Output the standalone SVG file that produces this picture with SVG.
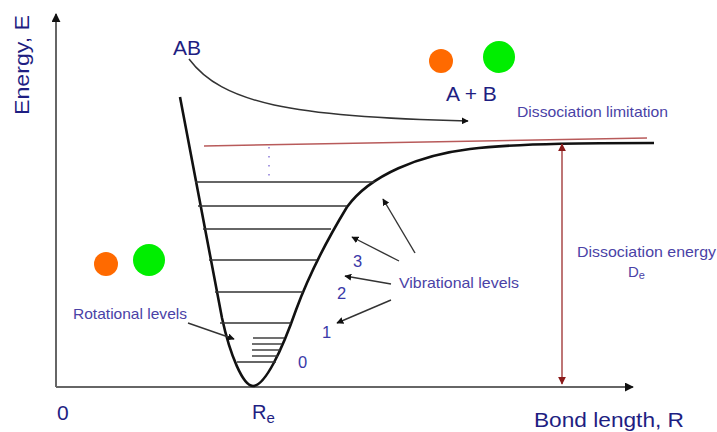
<svg xmlns="http://www.w3.org/2000/svg" width="717" height="432" viewBox="0 0 717 432">
<defs>
<marker id="ah" viewBox="0 0 10 10" refX="9" refY="5" markerWidth="7" markerHeight="7" markerUnits="userSpaceOnUse" orient="auto"><path d="M0,0 L10,5 L0,10 z" fill="#111"/></marker>
<marker id="ax" viewBox="0 0 10 10" refX="9" refY="5" markerWidth="9" markerHeight="9" markerUnits="userSpaceOnUse" orient="auto"><path d="M0,0 L10,5 L0,10 z" fill="#111"/></marker>
<marker id="rh" viewBox="0 0 10 10" refX="9" refY="5" markerWidth="8" markerHeight="8" markerUnits="userSpaceOnUse" orient="auto-start-reverse"><path d="M0,0 L10,5 L0,10 z" fill="#8b1a1a"/></marker>
</defs>
<style>
.big{font-family:"Liberation Sans",Arial,sans-serif;fill:#1e1e82}
.sm{font-family:"Liberation Sans",Arial,sans-serif;fill:#4a42a6;font-size:15px}
.num{font-family:"Liberation Sans",Arial,sans-serif;fill:#3a3aa8;font-size:16.5px}
.lvl{stroke:#333;stroke-width:1.4;fill:none}
.arr{stroke:#333;stroke-width:1.4;fill:none;marker-end:url(#ah)}
</style>
<rect width="717" height="432" fill="#fff"/>

<g id="axes">
<line x1="56" y1="387" x2="56" y2="14" stroke="#666" stroke-width="2" marker-end="url(#ax)"/>
<line x1="56" y1="387" x2="633" y2="387" stroke="#666" stroke-width="2" marker-end="url(#ax)"/>
<text class="big" font-size="21" textLength="100" lengthAdjust="spacingAndGlyphs" transform="translate(29,115) rotate(-90)">Energy, E</text>
<text class="big" x="57" y="420" font-size="21">0</text>
<text class="big" x="252" y="419" font-size="20">R<tspan font-size="15" dy="4">e</tspan></text>
<text class="big" x="534" y="427" font-size="21" textLength="150" lengthAdjust="spacingAndGlyphs">Bond length, R</text>
</g>

<g id="dissociation-limit">
<line x1="204" y1="146" x2="647" y2="138" stroke="#b85a5a" stroke-width="1.5"/>
<text class="sm" x="517" y="117" textLength="151" lengthAdjust="spacingAndGlyphs">Dissociation limitation</text>
</g>

<g id="potential-curve">
<path d="M180,97 L222,318 C230,355 243,386 253,386 C265,386 282,350 296,310 C310,272 330,235 347,207 C370,175 420,155 470,149 C520,143 600,143 654,143" fill="none" stroke="#111" stroke-width="2.6" stroke-linejoin="round"/>
</g>

<g id="vibrational-levels">
<line class="lvl" x1="195" y1="182" x2="375" y2="182"/>
<line class="lvl" x1="198" y1="206" x2="347" y2="206"/>
<line class="lvl" x1="203" y1="229" x2="331" y2="229"/>
<line class="lvl" x1="209" y1="260" x2="317" y2="260"/>
<line class="lvl" x1="215" y1="292" x2="303" y2="292"/>
<line class="lvl" x1="220" y1="323" x2="291" y2="323"/>
<line class="lvl" x1="237" y1="362" x2="276" y2="362"/>
<line x1="269" y1="147" x2="269" y2="176" stroke="#8a7ad8" stroke-width="1.5" stroke-dasharray="1.5 7.5"/>
<text class="num" x="298" y="368">0</text>
<text class="num" x="322" y="338">1</text>
<text class="num" x="337" y="299">2</text>
<text class="num" x="353" y="267">3</text>
</g>

<g id="rotational-levels">
<line class="lvl" x1="253" y1="338" x2="284" y2="338"/>
<line class="lvl" x1="252" y1="344" x2="282" y2="344"/>
<line class="lvl" x1="252" y1="350" x2="280" y2="350"/>
<line class="lvl" x1="252" y1="356" x2="278" y2="356"/>
<text class="sm" x="73" y="319" textLength="114" lengthAdjust="spacingAndGlyphs">Rotational levels</text>
</g>

<g id="vibrational-label">
<text class="sm" x="399" y="288" textLength="120" lengthAdjust="spacingAndGlyphs">Vibrational levels</text>
</g>

<g id="dissociation-energy">
<line x1="562" y1="144" x2="562" y2="384" stroke="#a84848" stroke-width="1.5" marker-start="url(#rh)" marker-end="url(#rh)"/>
<text class="sm" x="577" y="257" textLength="139" lengthAdjust="spacingAndGlyphs">Dissociation energy</text>
<text class="sm" x="628" y="277">D<tspan font-size="11" dy="2">e</tspan></text>
</g>

<g id="molecule-AB">
<text class="big" x="173" y="55" font-size="21">AB</text>
<circle cx="106" cy="264" r="12" fill="#ff6a00"/>
<circle cx="149" cy="260" r="16" fill="#00ee00"/>
</g>

<g id="atoms-A-B">
<circle cx="441" cy="61" r="12" fill="#ff6a00"/>
<circle cx="499" cy="57" r="16" fill="#00ee00"/>
<text class="big" x="446" y="101" font-size="21">A + B</text>
</g>

<g id="connectors">
<path d="M189,59 C222,103 290,117 468,121" fill="none" stroke="#333" stroke-width="1.5" marker-end="url(#ah)"/>
<line class="arr" x1="415" y1="253" x2="383" y2="199"/>
<line class="arr" x1="399" y1="261" x2="352" y2="237"/>
<line class="arr" x1="391" y1="284" x2="345" y2="276"/>
<line class="arr" x1="391" y1="300" x2="337" y2="323"/>
<line class="arr" x1="188" y1="323" x2="234" y2="339"/>
</g>
</svg>
